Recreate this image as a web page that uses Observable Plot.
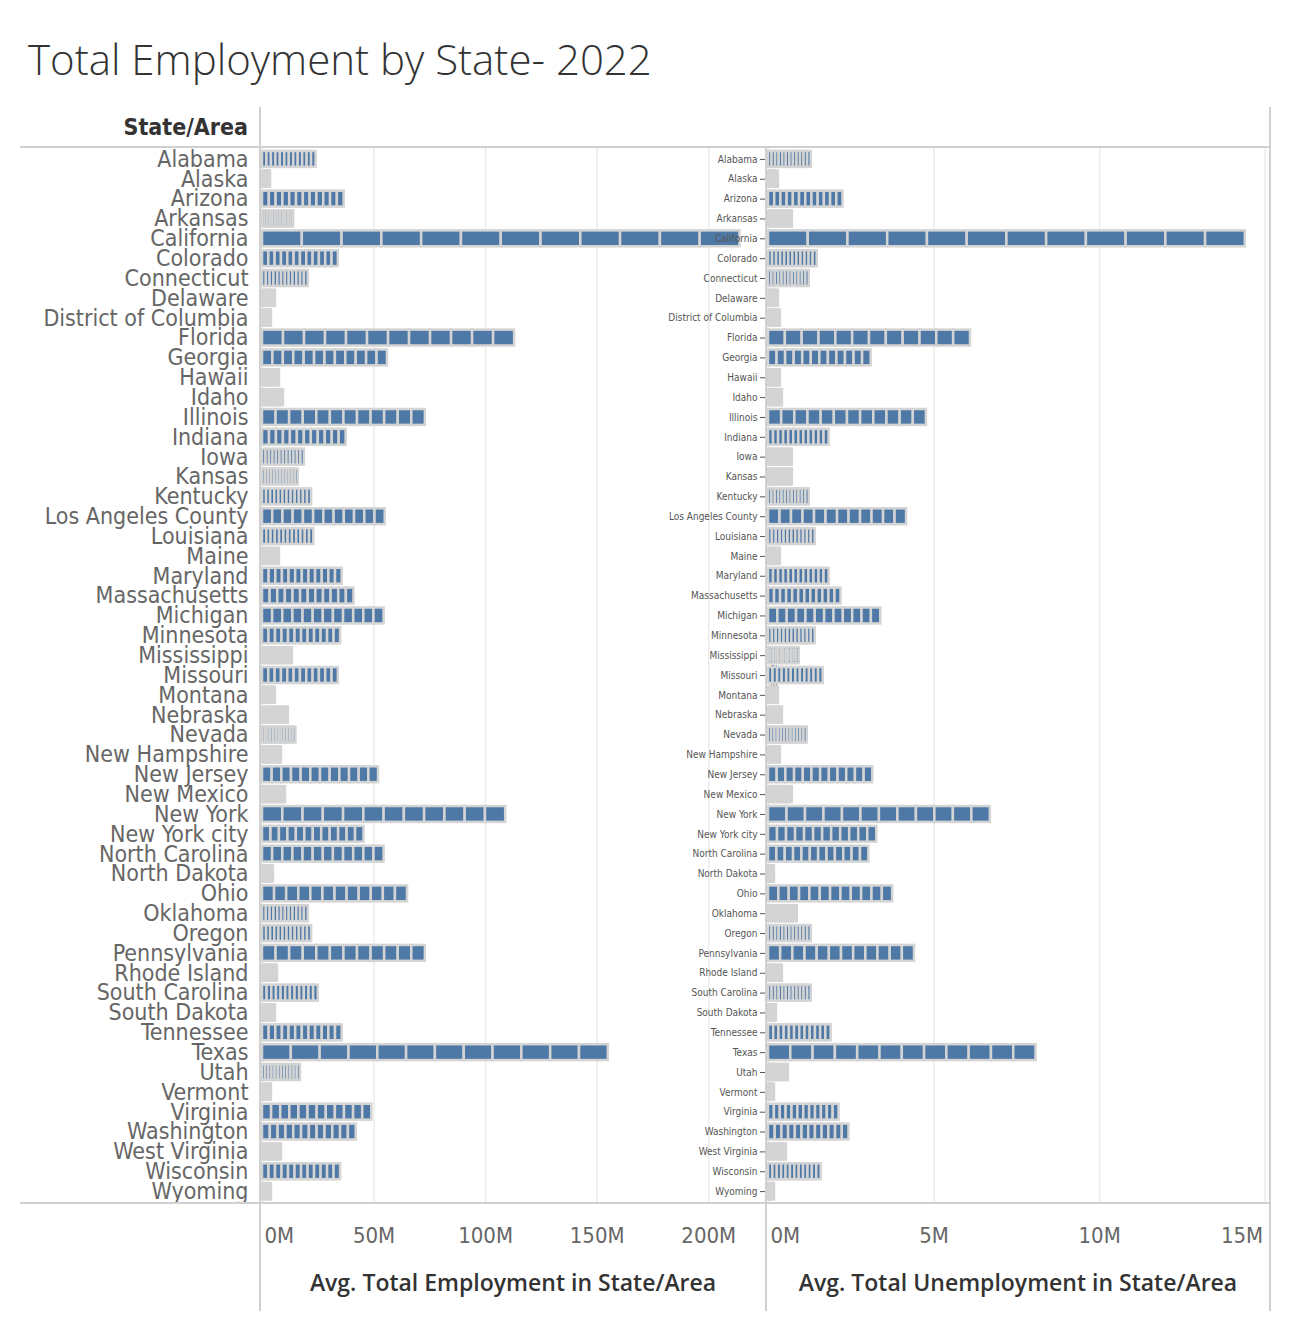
<!DOCTYPE html>
<html>
<head>
<meta charset="utf-8">
<script src="https://cdn.jsdelivr.net/npm/d3@7"></script>
<script src="https://cdn.jsdelivr.net/npm/@observablehq/plot@0.6"></script>
<style>
  body { margin: 0; background: #fff; font-family: "DejaVu Sans Condensed", "Open Sans", sans-serif; }
  #page { position: relative; width: 1306px; height: 1336px; }
  .abs { position: absolute; }
  .vl { position: absolute; width: 0; border-left: 2px solid #d0d0d0; }
  .hl { position: absolute; height: 0; border-top: 2px solid #d0d0d0; }
  .ttl { font-size: 23px; font-weight: 600; color: #333; text-align: center; font-family: "Open Sans", sans-serif; }
  svg { overflow: visible; }
</style>
</head>
<body>
<div id="page">
  <div class="abs" style="left:28px;top:30px;font-size:42px;color:#333;font-family:'Open Sans',sans-serif;font-weight:300">Total Employment by State- 2022</div>
  <div class="abs" style="left:20px;width:228px;top:114px;font-size:23px;font-weight:bold;color:#333;text-align:right">State/Area</div>
  <div id="left" class="abs" style="left:20px;top:147px"></div>
  <div id="right" class="abs" style="left:766px;top:147px"></div>
  <div class="abs ttl" style="left:260px;width:506px;top:1266px">Avg. Total Employment in State/Area</div>
  <div class="abs ttl" style="left:766px;width:504px;top:1266px">Avg. Total Unemployment in State/Area</div>
  <div class="vl" style="left:259px;top:107px;height:1204px"></div>
  <div class="vl" style="left:765px;top:147px;height:1164px"></div>
  <div class="vl" style="left:1269px;top:107px;height:1204px"></div>
  <div class="hl" style="left:20px;width:1250px;top:146px"></div>
  <div class="hl" style="left:20px;width:1250px;top:1202px"></div>
</div>
<script>
const states = ["Alabama","Alaska","Arizona","Arkansas","California","Colorado","Connecticut","Delaware","District of Columbia","Florida","Georgia","Hawaii","Idaho","Illinois","Indiana","Iowa","Kansas","Kentucky","Los Angeles County","Louisiana","Maine","Maryland","Massachusetts","Michigan","Minnesota","Mississippi","Missouri","Montana","Nebraska","Nevada","New Hampshire","New Jersey","New Mexico","New York","New York city","North Carolina","North Dakota","Ohio","Oklahoma","Oregon","Pennsylvania","Rhode Island","South Carolina","South Dakota","Tennessee","Texas","Utah","Vermont","Virginia","Washington","West Virginia","Wisconsin","Wyoming"]

// millions, summed over the 12 months
const employment = [24,3.6,36.6,14,214,34,20.5,5.8,4,113,56,7.6,9.4,73,37.5,18.8,16,22,55,23,7.6,35.7,41,54.5,35,13.4,34,5.8,11.6,15,8.5,52,10.3,109,45.5,54.5,4.9,65,20.5,22,73,6.7,25,5.8,35.7,155,17,4,49,42,8.5,35,4]
const unemployment = [1.29,0.3,2.25,0.72,14.4,1.47,1.23,0.3,0.36,6.1,3.1,0.36,0.42,4.77,1.83,0.72,0.72,1.23,4.17,1.41,0.36,1.83,2.19,3.39,1.41,0.93,1.65,0.3,0.42,1.17,0.36,3.15,0.72,6.7,3.27,3.03,0.18,3.75,0.87,1.29,4.41,0.42,1.29,0.24,1.89,8.08,0.6,0.18,2.13,2.43,0.54,1.59,0.18]
const months = d3.range(1, 13)
const empTicks = [0, 50e6, 100e6, 150e6, 200e6]
const unempTicks = [0, 5e6, 10e6, 15e6]

const segments = vals => states.flatMap((s, i) =>
  months.map(m => ({state: s, month: m, value: vals[i] * 1e6 / 12})))

const fmt = d => d / 1e6 + "M"

function panel(vals, domain, ticks, width, marginLeft, showY, lastEnd) {
  const last = ticks[ticks.length - 1]
  const tickOpts = {tickSize: 0, tickPadding: 24, fontSize: 22, tickFormat: fmt, label: null, fill: "#666"}
  const mid = ticks.filter(t => t !== 0 && !(lastEnd && t === last))
  return Plot.plot({
    width, height: 1106,
    marginLeft, marginRight: 0, marginTop: 0, marginBottom: 50,
    style: {fontFamily: "'DejaVu Sans Condensed',sans-serif", color: "#555", overflow: "visible"},
    x: {domain, range: [marginLeft + 2, width - 2]},
    y: {domain: states, padding: 0.2, align: 0.5},
    marks: [
      Plot.gridX(ticks, {stroke: "#ebebeb", strokeOpacity: 1, strokeWidth: 1.5}),
      Plot.rectX(segments(vals), Plot.stackX({x: "value", y: "state", z: "month", order: "month",
        fill: "#4e79a7", stroke: "#d4d4d4", strokeWidth: 2.5})),
      Plot.axisX([0], {...tickOpts, textAnchor: "start", dx: 2}),
      Plot.axisX(mid, tickOpts),
      lastEnd ? Plot.axisX([last], {...tickOpts, textAnchor: "end", dx: -2}) : null,
      showY ? Plot.axisY({tickSize: 0, tickPadding: 12, fontSize: 23, label: null, fill: "#666"}) : null
    ]
  })
}

document.getElementById("left").append(
  panel(employment, [0, 225e6], empTicks, 746, 240, true, false))
document.getElementById("right").append(
  panel(unemployment, [0, 15.1e6], unempTicks, 504, 0, false, true))
</script>
</body>
</html>
